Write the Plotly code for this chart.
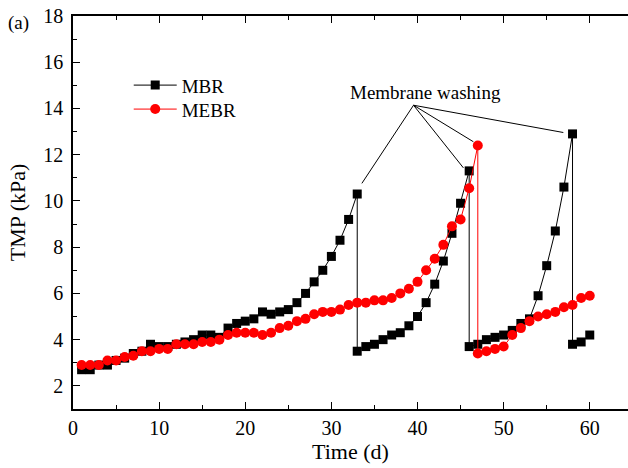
import plotly.graph_objects as go

# MBR series (days; duplicated day = membrane washing drop)
mbr_day = [1, 2, 3, 4, 5, 6, 7, 8, 9, 10, 11, 12, 13, 14, 15, 16, 17, 18, 19, 20,
           21, 22, 23, 24, 25, 26, 27, 28, 29, 30, 31, 32, 33, 33, 34, 35, 36, 37, 38, 39,
           40, 41, 42, 43, 44, 45, 46, 46, 47, 48, 49, 50, 51, 52, 53, 54, 55, 56, 57, 58,
           58, 59, 60]
mbr_tmp = [2.7, 2.7, 2.9, 2.9, 3.1, 3.2, 3.4, 3.5, 3.8, 3.7, 3.7, 3.8, 3.9, 4.0, 4.2, 4.2, 4.1, 4.5, 4.7, 4.8,
           4.9, 5.2, 5.1, 5.2, 5.3, 5.6, 6.0, 6.5, 7.0, 7.6, 8.3, 9.2, 10.3, 3.5, 3.7, 3.8, 4.0, 4.2, 4.3, 4.6,
           5.0, 5.6, 6.4, 7.4, 8.6, 9.9, 11.3, 3.7, 3.8, 4.0, 4.1, 4.2, 4.4, 4.7, 4.9, 5.9, 7.2, 8.7, 10.6, 12.9,
           3.8, 3.9, 4.2]

# MEBR series
mebr_day = [1, 2, 3, 4, 5, 6, 7, 8, 9, 10, 11, 12, 13, 14, 15, 16, 17, 18, 19, 20,
            21, 22, 23, 24, 25, 26, 27, 28, 29, 30, 31, 32, 33, 34, 35, 36, 37, 38, 39, 40,
            41, 42, 43, 44, 45, 46, 47, 47, 48, 49, 50, 51, 52, 53, 54, 55, 56, 57, 58, 59, 60]
mebr_tmp = [2.9, 2.9, 2.9, 3.1, 3.1, 3.25, 3.3, 3.5, 3.5, 3.6, 3.6, 3.8, 3.8, 3.8, 3.9, 3.9, 4.0, 4.2, 4.3, 4.3,
            4.3, 4.2, 4.3, 4.5, 4.6, 4.8, 4.9, 5.1, 5.2, 5.2, 5.3, 5.5, 5.6, 5.6, 5.7, 5.7, 5.8, 6.0, 6.2, 6.5,
            7.0, 7.5, 8.1, 8.9, 9.2, 10.55, 12.4, 3.4, 3.5, 3.6, 3.7, 4.2, 4.5, 4.8, 5.0, 5.1, 5.2, 5.4, 5.5, 5.8, 5.9]

# Annotation pointer: origin and targets (data coords)
note_text = "Membrane washing"
note_origin = (39.54, 14.14)
note_targets = [(33.54, 10.76), (45.33, 11.43), (46.49, 12.56), (56.93, 12.96)]
panel_label = "(a)"

FONT = "Liberation Serif"

fig = go.Figure()
fig.add_trace(go.Scatter(
    x=mbr_day, y=mbr_tmp, mode="lines+markers", name="MBR", legend="legend",
    line=dict(color="black", width=1),
    marker=dict(symbol="square", size=9, color="black"),
))
fig.add_trace(go.Scatter(
    x=mebr_day, y=mebr_tmp, mode="lines+markers", name="MEBR", legend="legend2",
    line=dict(color="red", width=1),
    marker=dict(symbol="circle", size=10, color="red"),
))

for tx, ty in note_targets:
    fig.add_shape(type="line", xref="x", yref="y",
                  x0=note_origin[0], y0=note_origin[1], x1=tx, y1=ty,
                  line=dict(color="black", width=1))

fig.add_annotation(x=40.9, y=14.7, xref="x", yref="y", text=note_text,
                   showarrow=False, font=dict(family=FONT, size=19, color="black"))
fig.add_annotation(x=-0.0985, y=0.981, xref="paper", yref="paper", text=panel_label,
                   xanchor="center", yanchor="middle",
                   showarrow=False, font=dict(family=FONT, size=19, color="black"))

leg_common = dict(xanchor="left", yanchor="middle", bgcolor="rgba(0,0,0,0)",
                  font=dict(family=FONT, size=19), itemwidth=43)

fig.update_layout(
    width=628, height=468,
    margin=dict(l=73, r=0, t=16, b=59),
    paper_bgcolor="white", plot_bgcolor="white",
    font=dict(family=FONT, size=20, color="black"),
    showlegend=True,
    legend=dict(x=0.1004, y=(409 - 85) / 393.3, **leg_common),
    legend2=dict(x=0.1004, y=(409 - 109) / 393.3, **leg_common),
)
fig.update_xaxes(
    range=[0, 64.44], dtick=10, tick0=0,
    ticks="inside", ticklen=7, tickwidth=1.2, tickcolor="black",
    minor=dict(dtick=5, ticks="inside", ticklen=4, tickcolor="black"),
    showline=True, linecolor="black", linewidth=1.5, mirror="ticks",
    showgrid=False, zeroline=False,
    title=dict(text="Time (d)", font=dict(family=FONT, size=22), standoff=6),
    tickfont=dict(family=FONT, size=20),
)
fig.update_yaxes(
    range=[1, 18], dtick=2, tick0=0,
    ticks="inside", ticklen=7, tickwidth=1.2, tickcolor="black",
    minor=dict(dtick=1, ticks="inside", ticklen=4, tickcolor="black"),
    showline=True, linecolor="black", linewidth=1.5, mirror=False,
    showgrid=False, zeroline=False, ticklabelstandoff=4,
    title=dict(text="TMP (kPa)", font=dict(family=FONT, size=22), standoff=12),
    tickfont=dict(family=FONT, size=20),
)

fig.write_html("out.html")
